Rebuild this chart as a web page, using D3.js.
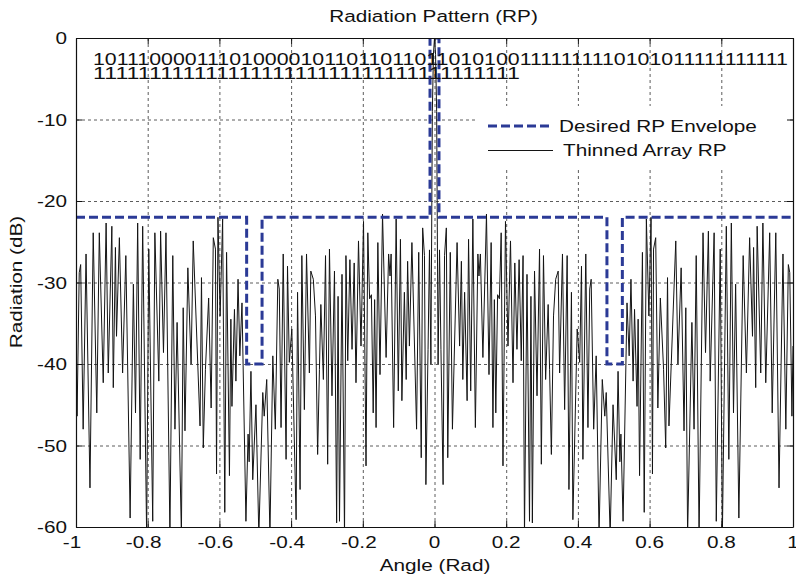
<!DOCTYPE html>
<html>
<head>
<meta charset="utf-8">
<script src="https://cdn.jsdelivr.net/npm/d3@7"></script>
<style>
  html, body { margin: 0; padding: 0; background: #fff; }
  text { font-family: "Liberation Sans", Arial, Helvetica, sans-serif; fill: #111; }
</style>
</head>
<body>
<script>
'use strict';
// ---- data ----
const xTicks = [-1, -0.8, -0.6, -0.4, -0.2, 0, 0.2, 0.4, 0.6, 0.8, 1];
const xTickLabels = ['-1', '-0.8', '-0.6', '-0.4', '-0.2', '0', '0.2', '0.4', '0.6', '0.8', '1'];
const yTicks = [-60, -50, -40, -30, -20, -10, 0];
const yTickLabels = ['-60', '-50', '-40', '-30', '-20', '-10', '0'];

// desired envelope (angle, dB)
const envAngle = [-1, -0.524, -0.524, -0.481, -0.481, -0.0125, -0.0125, 0.0125, 0.0125, 0.481, 0.481, 0.524, 0.524, 1];
const envDb    = [-22, -22, -40, -40, -22, -22, 0, 0, -22, -22, -40, -40, -22, -22];

// thinned array pattern, [angle, dB]
const rpPoints = [
  [-1.000,-37.8],[-0.997,-46.4],[-0.991,-28.8],[-0.987,-27.8],[-0.980,-48.0],[-0.972,-26.5],[-0.961,-55.2],[-0.952,-23.9],
  [-0.942,-46.0],[-0.935,-23.9],[-0.924,-42.3],[-0.916,-22.7],[-0.910,-41.1],[-0.900,-23.1],[-0.896,-42.9],[-0.890,-25.7],
  [-0.887,-36.6],[-0.879,-24.5],[-0.870,-41.1],[-0.861,-26.7],[-0.849,-58.9],[-0.840,-30.2],[-0.834,-46.0],[-0.828,-22.7],
  [-0.821,-51.7],[-0.814,-23.1],[-0.803,-61],[-0.797,-25.9],[-0.786,-59.3],[-0.780,-23.9],[-0.769,-42.1],[-0.764,-23.7],
  [-0.756,-38.6],[-0.749,-23.9],[-0.738,-61],[-0.730,-26.7],[-0.724,-48.0],[-0.718,-34.9],[-0.706,-61],[-0.701,-33.1],
  [-0.696,-48.2],[-0.688,-28.2],[-0.679,-40.0],[-0.673,-24.9],
  [-0.654,-47.6],[-0.650,-29.4],[-0.645,-50.3],[-0.639,-40.7],[-0.630,-31.9],[-0.623,-45.4],[-0.617,-24.5],[-0.611,-25.9],
  [-0.608,-53.5],[-0.604,-22.0],[-0.598,-34.1],[-0.591,-22.2],[-0.585,-58.2],[-0.580,-26.3],[-0.572,-53.7],[-0.568,-34.5],
  [-0.565,-45.2],[-0.558,-33.3],[-0.554,-42.1],[-0.548,-29.6],[-0.543,-39.0],[-0.537,-32.5],[-0.526,-59.3],[-0.520,-48.6],
  [-0.517,-52.0],[-0.512,-40.9],[-0.507,-54.2],[-0.498,-45.0],[-0.490,-61],[-0.479,-43.5],[-0.475,-46.4],[-0.468,-41.9],
  [-0.459,-61],[-0.451,-39.0],[-0.444,-48.0],[-0.437,-29.6],[-0.433,-30.8],[-0.428,-47.8],[-0.422,-26.5],[-0.414,-51.7],
  [-0.410,-28.0],[-0.405,-39.8],[-0.398,-35.7],[-0.386,-59.1],[-0.382,-31.2],[-0.375,-55.4],[-0.370,-26.7],[-0.363,-45.6],
  [-0.357,-26.5],[-0.349,-41.1],[-0.345,-28.6],[-0.338,-29.6],[-0.332,-34.1],
  [-0.326,-51.1],[-0.321,-40.7],[-0.317,-32.7],[-0.310,-41.9],[-0.304,-26.7],[-0.298,-52.3],[-0.293,-25.9],[-0.286,-43.9],
  [-0.279,-28.6],[-0.273,-59.5],[-0.269,-31.7],[-0.265,-59.3],[-0.258,-29.0],[-0.251,-61],[-0.247,-26.7],[-0.242,-39.6],
  [-0.236,-27.2],[-0.230,-38.2],[-0.224,-27.6],[-0.219,-42.3],[-0.212,-24.9],[-0.205,-37.8],[-0.198,-22.5],[-0.191,-52.5],
  [-0.186,-23.9],[-0.181,-32.0],[-0.176,-31.5],[-0.171,-46.0],[-0.167,-32.1],[-0.163,-47.8],[-0.158,-25.1],[-0.152,-41.3],
  [-0.145,-21.6],[-0.135,-39.2],[-0.128,-26.5],[-0.124,-29.2],[-0.121,-26.5],[-0.114,-47.8],[-0.107,-22.2],[-0.101,-43.3],
  [-0.095,-24.7],[-0.091,-44.5],[-0.084,-31.2],[-0.079,-41.9],[-0.075,-27.4],[-0.070,-37.8],[-0.063,-25.1],[-0.050,-48.0],
  [-0.044,-26.3],[-0.037,-51.5],[-0.033,-23.3],[-0.028,-26.7],[-0.024,-54.8],[-0.018,-38.2],[-0.014,-26.0],[-0.010,-40.0],
  [-0.006,-9.0],[-0.003,-2.0],[0,0],
  [0.003,-2.0],[0.006,-9.0],[0.010,-40.0],[0.014,-26.0],[0.018,-38.2],[0.024,-54.8],[0.028,-26.7],[0.033,-23.3],
  [0.037,-51.5],[0.044,-26.3],[0.050,-48.0],[0.063,-25.1],[0.070,-37.8],[0.075,-27.4],[0.079,-41.9],[0.084,-31.2],
  [0.091,-44.5],[0.095,-24.7],[0.101,-43.3],[0.107,-22.2],[0.114,-47.8],[0.121,-26.5],[0.124,-29.2],[0.128,-26.5],
  [0.135,-39.2],[0.145,-21.6],[0.152,-41.3],[0.158,-25.1],[0.163,-47.8],[0.167,-32.1],[0.171,-46.0],[0.176,-31.5],
  [0.181,-32.0],[0.186,-23.9],[0.191,-52.5],[0.198,-22.5],[0.205,-37.8],[0.212,-24.9],[0.219,-42.3],[0.224,-27.6],
  [0.230,-38.2],[0.236,-27.2],[0.242,-39.6],[0.247,-26.7],[0.251,-61],[0.258,-29.0],[0.265,-59.3],[0.269,-31.7],
  [0.273,-59.5],[0.279,-28.6],[0.286,-43.9],[0.293,-25.9],[0.298,-52.3],[0.304,-26.7],[0.310,-41.9],[0.317,-32.7],
  [0.321,-40.7],[0.326,-51.1],
  [0.332,-34.1],[0.338,-29.6],[0.345,-28.6],[0.349,-41.1],[0.357,-26.5],[0.363,-45.6],[0.370,-26.7],[0.375,-55.4],
  [0.382,-31.2],[0.386,-59.1],[0.398,-35.7],[0.405,-39.8],[0.410,-28.0],[0.414,-51.7],[0.422,-26.5],[0.428,-47.8],
  [0.433,-30.8],[0.437,-29.6],[0.444,-48.0],[0.451,-39.0],[0.459,-61],[0.468,-41.9],[0.475,-46.4],[0.479,-43.5],
  [0.490,-61],[0.498,-45.0],[0.507,-54.2],[0.512,-40.9],[0.517,-52.0],[0.520,-48.6],[0.526,-59.3],[0.537,-32.5],
  [0.543,-39.0],[0.548,-29.6],[0.554,-42.1],[0.558,-33.3],[0.565,-45.2],[0.568,-34.5],[0.572,-53.7],[0.580,-26.3],
  [0.585,-58.2],[0.591,-22.2],[0.598,-34.1],[0.604,-22.0],[0.608,-53.5],[0.611,-25.9],[0.617,-24.5],[0.623,-45.4],
  [0.630,-31.9],[0.639,-40.7],[0.645,-50.3],[0.650,-29.4],[0.654,-47.6],
  [0.673,-24.9],[0.679,-40.0],[0.688,-28.2],[0.696,-48.2],[0.701,-33.1],[0.706,-61],[0.718,-34.9],[0.724,-48.0],
  [0.730,-26.7],[0.738,-61],[0.749,-23.9],[0.756,-38.6],[0.764,-23.7],[0.769,-42.1],[0.780,-23.9],[0.786,-59.3],
  [0.797,-25.9],[0.803,-61],[0.814,-23.1],[0.821,-51.7],[0.828,-22.7],[0.834,-46.0],[0.840,-30.2],[0.849,-58.9],
  [0.861,-26.7],[0.870,-41.1],[0.879,-24.5],[0.887,-36.6],[0.890,-25.7],[0.896,-42.9],[0.900,-23.1],[0.910,-41.1],
  [0.916,-22.7],[0.924,-42.3],[0.935,-23.9],[0.942,-46.0],[0.952,-23.9],[0.961,-55.2],[0.972,-26.5],[0.980,-48.0],
  [0.987,-27.8],[0.991,-28.8],[0.997,-46.4],[1.000,-37.8]
];

// element states of the thinned array (two printed lines)
const bitLines = [
  '10111000011101000010110110110110101001111111110101011111111111',
  '11111111111111111111111111111111111111'
];
const legendLabels = ['Desired RP Envelope', 'Thinned Array RP'];

(function () {
  // ---- layout ----
  const W = 796, H = 577;
  const pL = 76, pR = 793, pT = 38, pB = 527;
  const FS = 17, SX = 1.22;   // text in the figure is horizontally stretched
  const blue = '#2b3a96';

  const svg = d3.select('body').append('svg')
    .attr('width', W).attr('height', H);

  const x = d3.scaleLinear().domain([-1, 1]).range([pL, pR]);
  const y = d3.scaleLinear().domain([-60, 0]).range([pB, pT]);

  function label(g, str, px, py, anchor, rotate) {
    return g.append('text')
      .attr('transform', `translate(${px},${py})` + (rotate ? ` rotate(${rotate})` : '') + ` scale(${SX},1)`)
      .attr('text-anchor', anchor)
      .attr('font-size', FS)
      .text(str);
  }

  svg.append('defs').append('clipPath').attr('id', 'plot')
    .append('rect').attr('x', pL).attr('y', pT).attr('width', pR - pL).attr('height', pB - pT);

  // grid
  const grid = svg.append('g').attr('stroke', '#4a4a4a').attr('stroke-width', 0.9).attr('stroke-dasharray', '3,3');
  grid.selectAll('.gx').data(xTicks.slice(1, -1)).enter().append('line')
    .attr('x1', d => x(d) + 0.5).attr('x2', d => x(d) + 0.5).attr('y1', pT).attr('y2', pB);
  grid.selectAll('.gy').data(yTicks.slice(1, -1)).enter().append('line')
    .attr('y1', d => y(d) + 0.5).attr('y2', d => y(d) + 0.5).attr('x1', pL).attr('x2', pR);

  const plot = svg.append('g').attr('clip-path', 'url(#plot)');

  // thinned array RP
  plot.append('path')
    .datum(rpPoints)
    .attr('fill', 'none').attr('stroke', '#141414').attr('stroke-width', 1)
    .attr('d', d3.line().x(d => x(d[0])).y(d => y(d[1])));

  // desired envelope
  const envData = envAngle.map((a, i) => [a, envDb[i]]);
  plot.append('path')
    .datum(envData)
    .attr('fill', 'none').attr('stroke', blue).attr('stroke-width', 3)
    .attr('stroke-dasharray', '9,4')
    .attr('d', d3.line().x(d => x(d[0])).y(d => y(d[1])));

  // legend (white box, no border)
  const lg = svg.append('g');
  lg.append('rect').attr('x', 476).attr('y', 106).attr('width', 314).attr('height', 62).attr('fill', '#fff');
  lg.append('line').attr('x1', 488).attr('x2', 553).attr('y1', 126).attr('y2', 126)
    .attr('stroke', blue).attr('stroke-width', 3).attr('stroke-dasharray', '9,4');
  lg.append('line').attr('x1', 488).attr('x2', 553).attr('y1', 150.5).attr('y2', 150.5)
    .attr('stroke', '#141414').attr('stroke-width', 1);
  label(lg, legendLabels[0], 559, 132, 'start');
  label(lg, legendLabels[1], 563, 156, 'start');

  // frame + inward ticks via d3 axes
  const axG = svg.append('g');
  axG.append('g').attr('transform', `translate(0,${pB})`)
    .call(d3.axisBottom(x).tickValues(xTicks).tickSizeInner(-6).tickSizeOuter(0).tickFormat(''));
  axG.append('g').attr('transform', `translate(0,${pT})`)
    .call(d3.axisTop(x).tickValues(xTicks).tickSizeInner(-6).tickSizeOuter(0).tickFormat(''));
  axG.append('g').attr('transform', `translate(${pL},0)`)
    .call(d3.axisLeft(y).tickValues(yTicks).tickSizeInner(-6).tickSizeOuter(0).tickFormat(''));
  axG.append('g').attr('transform', `translate(${pR},0)`)
    .call(d3.axisRight(y).tickValues(yTicks).tickSizeInner(-6).tickSizeOuter(0).tickFormat(''));
  axG.selectAll('.domain').attr('stroke', '#111').attr('stroke-width', 1.2);
  axG.selectAll('.tick line').attr('stroke', '#111');

  // tick labels
  const tl = svg.append('g');
  xTicks.forEach((v, i) => {
    label(tl, xTickLabels[i], x(v) - (v < 0 ? 4 : 0), 548, 'middle');
  });
  yTicks.forEach((v, i) => {
    label(tl, yTickLabels[i], 67, y(v) + 6, 'end');
  });

  // titles
  label(svg, 'Radiation Pattern (RP)', 433.5, 22, 'middle');
  label(svg, 'Angle (Rad)', 435, 571, 'middle');
  label(svg, 'Radiation (dB)', 22, 282, 'middle', -90);

  // bit string annotation: one text, two lines; widths fitted to the figure
  const lineWidths = [695, 427];
  const bits = svg.append('text')
    .attr('transform', `translate(93,65) scale(${SX},1)`)
    .attr('font-size', FS);
  bitLines.forEach((s, i) => {
    bits.append('tspan')
      .attr('x', 0).attr('dy', i === 0 ? 0 : 14)
      .attr('textLength', lineWidths[i] / SX)
      .attr('lengthAdjust', 'spacingAndGlyphs')
      .text(s);
  });
})();
</script>
</body>
</html>
